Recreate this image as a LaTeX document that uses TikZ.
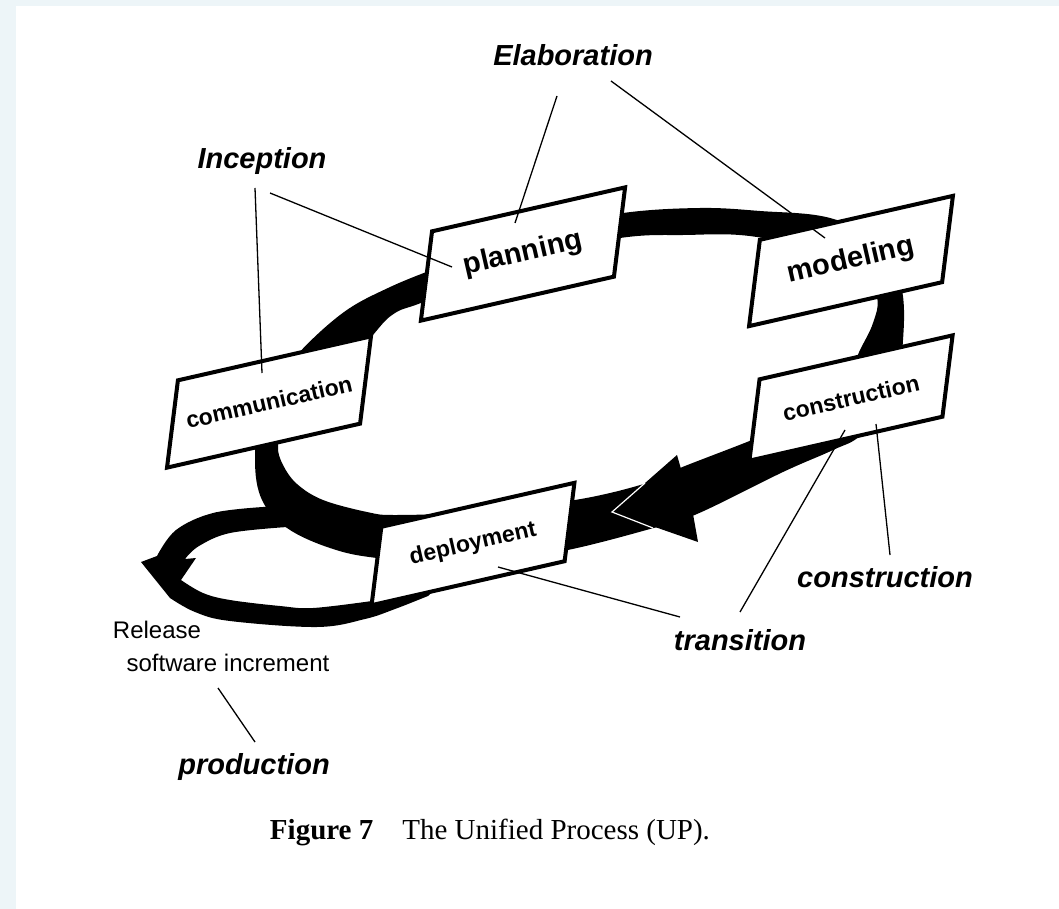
\documentclass[tikz,border=0pt]{standalone}
\usepackage{fontspec}
\setmainfont{Liberation Serif}
\newfontfamily\arial{Liberation Sans}
\usepackage{xcolor}
\usetikzlibrary{positioning}
\definecolor{fondo}{HTML}{EDF5F8}

\begin{document}
\begin{tikzpicture}[x=1pt, y=-1pt,
  caja/.style={draw, line width=4pt, fill=white, inner sep=0pt, minimum width=198pt,
    minimum height=#1, cm={0.975,0.222,0.124,0.992,(0,0)}},
  grande/.style={font=\arial\bfseries\fontsize{29}{34}\selectfont, rotate=12.9},
  chica/.style={font=\arial\bfseries\fontsize{23}{28}\selectfont, rotate=12.9},
  fase/.style={font=\arial\bfseries\itshape\fontsize{29}{34}\selectfont, inner sep=0pt},
  nota/.style={font=\arial\fontsize{24}{28}\selectfont, inner sep=0pt},
  guia/.style={line width=1.3pt}]
% Fondo
\useasboundingbox (0,0) rectangle (1059,909);
\fill[fondo] (0,0) rectangle (1059,909);
\fill[white] (16,6) rectangle (1059,909);

% Anillo
\fill[even odd rule]
  plot[smooth cycle, tension=0.6] coordinates {(833,450) (783,472) (697,514) (650,529)
    (563,551) (470,565) (377,558) (330,548) (287,528) (262,500) (255,460) (262,410)
    (290,363) (340,315) (388,288) (450,263) (540,230) (623,213) (700,208) (760,211)
    (830,218) (885,245) (902,290) (903,340) (895,390) (862,434)}
  plot[smooth cycle, tension=0.6] coordinates {(278,447) (283,465) (297,484) (323,500)
    (367,512) (395,515) (470,512) (575,500) (647,483) (680,468) (747,442) (800,420)
    (845,380) (860,350) (873,323) (877,297) (860,262) (757,237) (683,235) (620,238)
    (520,258) (428,300) (395,313) (373,335) (330,390) (285,430)};

% Flecha de entrega
\fill (287,527) -- plot[smooth, tension=0.6] coordinates {(287,527) (230,533) (199,546) (185,559)}
  -- (196,558) -- plot[smooth, tension=0.6] coordinates {(181,580) (203,593) (230,600) (280,606) (313,608) (372,601)}
  -- (400,592) -- (440,585) -- (428,596) -- plot[smooth, tension=0.6] coordinates {(428,596) (395,609) (365,619) (317,627) (230,621) (195,612) (170,598)}
  -- (141,562) -- plot[smooth, tension=0.6] coordinates {(157,556) (176,530) (213,513) (263,507)}
  -- (280,505) -- cycle;

% Punta
\fill (612,512) -- (677,455) -- (681,469) -- (693,514) -- (698,542) -- cycle;
\draw[white, line width=1.2pt] (645,483) -- (612,512) -- (653,528);

% Fases
\node[caja=88pt, label={[chica]center:communication}] (comm) at (269,402) {};
\node[caja=90pt, label={[grande]center:planning}] (plan) at (523,254) {};
\node[caja=87pt, label={[grande]center:modeling}] (model) at (851,261) {};
\node[caja=82pt, label={[chica]center:construction}] (constr) at (851,398) {};
\node[caja=79pt, label={[chica]center:deployment}] (deploy) at (473,544) {};

% Etiquetas
\node[fase] (elab) at (573,55) {Elaboration};
\node[fase] (incep) at (262,161) {Inception};
\node[fase] (build) at (885,577) {construction};
\node[fase] (trans) at (740,640) {transition};
\node[fase] (prod) at (254,767) {production};
\node[nota] (rel) at (157,630) {Release};
\node[nota] (inc) at (228,663) {software increment};
\node[font=\fontsize{29}{34}\selectfont, inner sep=0pt] (cap) at (490,832)
  {\textbf{Figure 7}\quad The Unified Process (UP).};

% Guías
\draw[guia] ([shift={(-16,41)}]elab.center) -- ([shift={(-8,-31)}]plan.center);
\draw[guia] ([shift={(38,26)}]elab.center) -- ([shift={(-26,-23)}]model.center);
\draw[guia] ([shift={(-7,27)}]incep.center) -- ([shift={(-7,-29)}]comm.center);
\draw[guia] ([shift={(8,32)}]incep.center) -- ([shift={(-71,13)}]plan.center);
\draw[guia] ([shift={(0,-28)}]trans.center) -- ([shift={(-6,32)}]constr.center);
\draw[guia] ([shift={(5,-22)}]build.center) -- ([shift={(25,26)}]constr.center);
\draw[guia] ([shift={(-60,-23)}]trans.center) -- ([shift={(25,23)}]deploy.center);
\draw[guia] ([shift={(1,-25)}]prod.center) -- ([shift={(-10,25)}]inc.center);
\end{tikzpicture}
\end{document}
